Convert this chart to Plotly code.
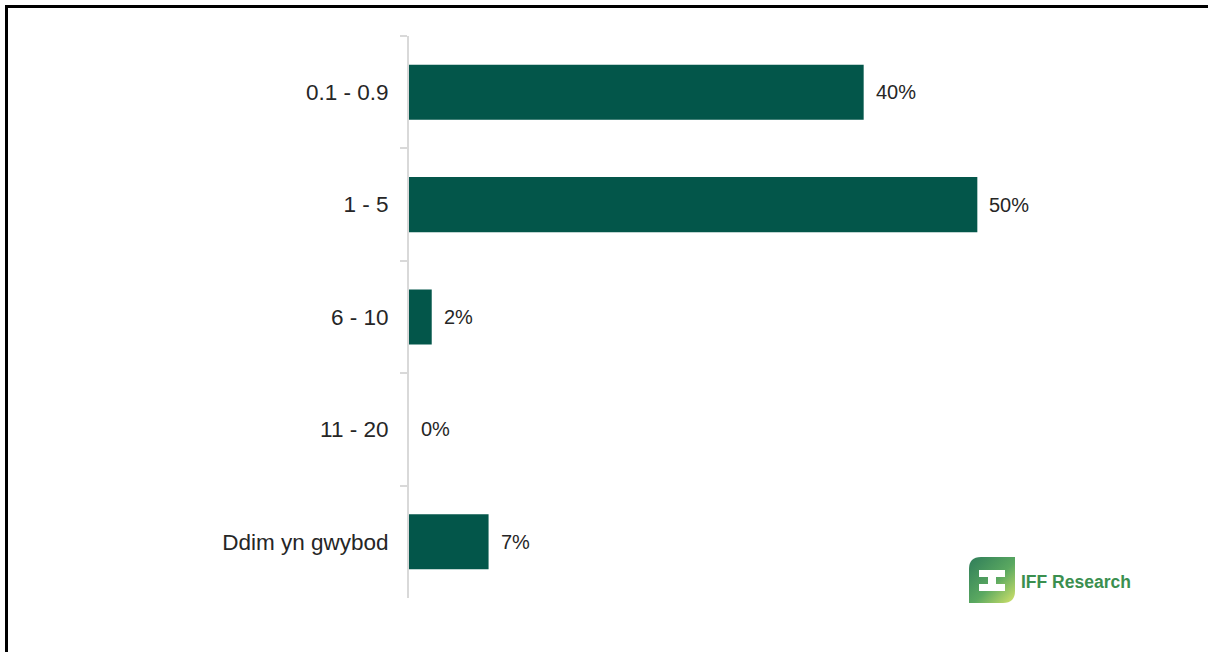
import base64
import plotly.graph_objects as go

categories = ["0.1 - 0.9", "1 - 5", "6 - 10", "11 - 20", "Ddim yn gwybod"]
values = [40, 50, 2, 0, 7]
value_labels = ["40%", "50%", "2%", "0%", "7%"]

BAR_COLOR = "#03564A"
W, H = 1208, 652
ML, MR, MT, MB = 409, 117, 36, 54
PW, PH = W - ML - MR, H - MT - MB


def px_x(px):
    return (px - ML) / PW


def px_y(py):
    return (H - MB - py) / PH


fig = go.Figure()
fig.add_trace(go.Bar(
    x=values, y=categories, orientation="h",
    marker=dict(color=BAR_COLOR, line=dict(width=0)),
    width=0.49, hoverinfo="skip",
))

for v, c, t in zip(values, categories, value_labels):
    fig.add_annotation(x=v, y=c, xref="x", yref="y", text=t, showarrow=False,
                       xanchor="left", yanchor="middle", xshift=10,
                       font=dict(family="Liberation Sans, Arial", size=20, color="#262626"))

# Logo icon (graphic) as inline SVG
svg = """<svg xmlns='http://www.w3.org/2000/svg' width='46' height='46' viewBox='0 0 46 46'>
<defs><linearGradient id='g' x1='0' y1='0' x2='1' y2='1'>
<stop offset='0' stop-color='#2f7d5a'/><stop offset='0.55' stop-color='#5aa860'/>
<stop offset='1' stop-color='#d4e36a'/></linearGradient></defs>
<path d='M12 0 H46 V34 Q46 46 34 46 H0 V12 Q0 0 12 0 Z' fill='url(#g)'/>
<path d='M10 13 H36 V20 H27 V27 H36 V34 H10 V27 H19 V20 H10 Z' fill='white'/>
</svg>"""
src = "data:image/svg+xml;base64," + base64.b64encode(svg.encode()).decode()
fig.add_layout_image(source=src, xref="paper", yref="paper",
                     x=px_x(969), y=px_y(557), sizex=46 / PW, sizey=46 / PH,
                     xanchor="left", yanchor="top", sizing="stretch", layer="above")
fig.add_annotation(xref="paper", yref="paper", x=px_x(1019), y=px_y(582),
                   text="<b>IFF Research</b>", showarrow=False, xanchor="left", yanchor="middle",
                   font=dict(family="Liberation Sans, Arial", size=17.5, color="#3b8f4f"))

# outer frame: top and left edges only (the rest lies outside the picture)
fig.add_shape(type="line", xref="paper", yref="paper",
              x0=px_x(5), x1=px_x(1212), y0=px_y(6.5), y1=px_y(6.5),
              line=dict(color="black", width=3), layer="above")
fig.add_shape(type="line", xref="paper", yref="paper",
              x0=px_x(6.5), x1=px_x(6.5), y0=px_y(656), y1=px_y(5),
              line=dict(color="black", width=3), layer="above")

fig.update_layout(
    width=W, height=H,
    margin=dict(l=ML, r=MR, t=MT, b=MB),
    paper_bgcolor="white", plot_bgcolor="white",
    showlegend=False, bargap=0.51,
    xaxis=dict(range=[0, 60], visible=False, fixedrange=True),
    yaxis=dict(
        type="category", categoryorder="array", categoryarray=categories,
        autorange="reversed", tickson="boundaries", fixedrange=True,
        ticks="outside", ticklen=7, tickcolor="#D9D9D9", tickwidth=2,
        showline=True, linecolor="#D9D9D9", linewidth=2, showgrid=False,
        tickfont=dict(family="Liberation Sans, Arial", size=22.5, color="#262626"),
        ticklabelstandoff=14,
    ),
)

fig.write_html("out.html", config={"displayModeBar": False},
               post_script="document.body.style.margin='0';document.body.style.overflow='hidden';")
